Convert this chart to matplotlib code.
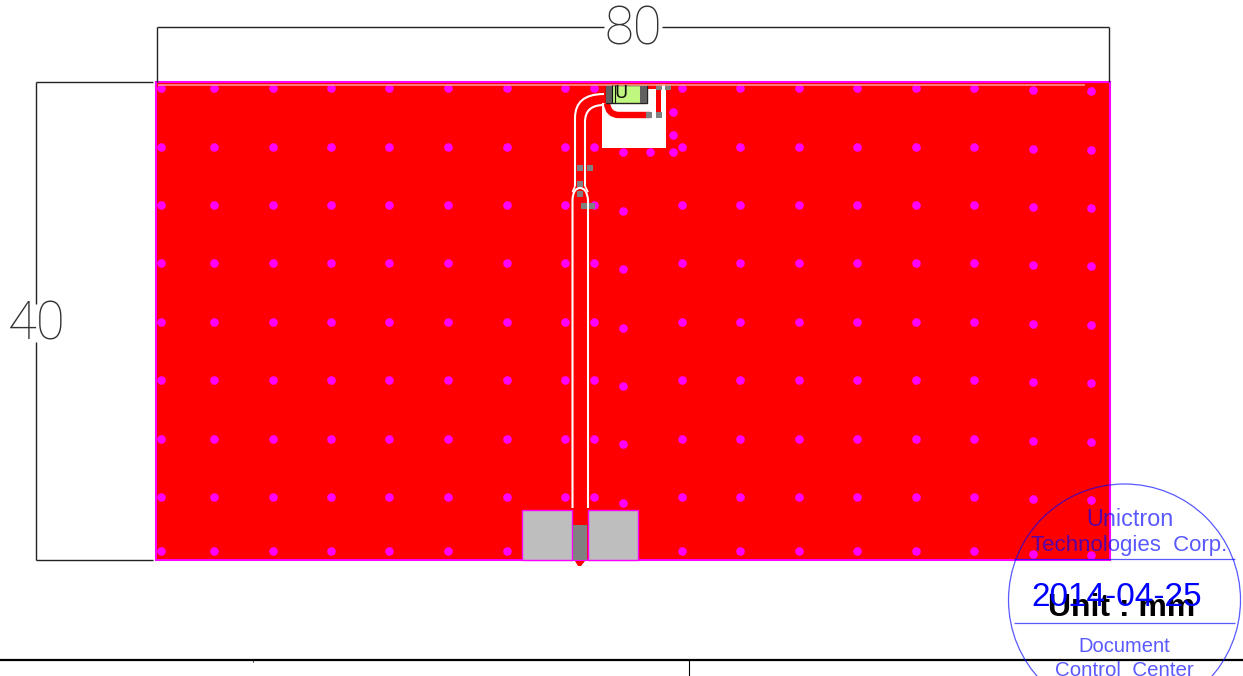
import numpy as np
import matplotlib
matplotlib.use("Agg")
import matplotlib.pyplot as plt
from matplotlib.patches import Rectangle, Circle, PathPatch, Polygon
from matplotlib.path import Path

# everything in pixels
via_cols = [161, 214, 273, 331, 389, 448, 507, 565, 594, 682, 740, 799, 857, 916, 974, 1033, 1091]
via_drop = [0, 0, 0, 0, 0, 0, 0, 0, 0, 0, 0, 0, 0, 0, 0, 2, 3]
via_rows = [88, 147, 205, 263, 322, 380, 439, 497]
bottom_cols = [161, 214, 273, 331, 389, 448, 507, 682, 740, 799, 857, 916, 974, 1033, 1091]
bottom_drop = [0, 0, 0, 0, 0, 0, 0, 0, 0, 0, 0, 0, 0, 3, 4]
bottom_row = 551
shifted_col = 623
shifted_rows = [211, 269, 328, 386, 444, 503]
extra_vias = [(623, 152), (650, 152), (673, 152), (673, 112), (673, 135)]

gray_pads = [(580, 168), (590, 168), (580, 184), (580, 194), (584, 206), (592, 206),
             (649, 115), (659, 115), (659, 87), (668, 87)]

RED = "#ff0000"
MAGENTA = "#ff00ff"
STAMP = (0.0, 0.0, 1.0, 0.65)
FONT = "Liberation Sans"

fig = plt.figure(figsize=(12.43, 6.76), dpi=100)
ax = fig.add_axes([0, 0, 1, 1])
ax.set_xlim(0, 1243)
ax.set_ylim(676, 0)
ax.axis("off")


def hline(y, x0, x1, lw=1.0, color="#222222"):
    ax.plot([x0, x1], [y, y], color=color, lw=lw, solid_capstyle="butt", zorder=8)


def vline(x, y0, y1, lw=1.0, color="#222222"):
    ax.plot([x, x], [y0, y1], color=color, lw=lw, solid_capstyle="butt", zorder=8)


def curve(points, color="white", lw=1.5, zorder=4):
    # points are line, line, ..., with the triple (a, ctrl, b) given as a nested list
    verts, codes = [], []
    for p in points:
        if isinstance(p, list):
            verts += p
            codes += [Path.CURVE3, Path.CURVE3]
        else:
            verts.append(p)
            codes.append(Path.LINETO if verts[:-1] else Path.MOVETO)
    ax.add_patch(PathPatch(Path(verts, codes), fc="none", ec=color, lw=lw, zorder=zorder))


# board
ax.add_patch(Rectangle((156, 82), 954, 478, fc=RED, ec=MAGENTA, lw=1.5, zorder=1))
hline(84.5, 158, 1085, lw=1.2, color="#ff9090")

# copper cut out round the component
ax.add_patch(Polygon([(602, 103), (648, 103), (648, 84), (666, 84), (666, 148), (602, 148)],
                     fc="white", ec="none", zorder=2))
ax.add_patch(Rectangle((656, 84), 5, 30, fc=RED, ec="none", zorder=3))
ax.add_patch(Rectangle((648, 84), 13, 5, fc=RED, ec="none", zorder=3))
curve([(607, 103), [(608, 115), (619, 115)], (650, 115)], color=RED, lw=4.6)

# feed line
curve([(575, 186), (575, 118), [(575, 94), (604, 94)]])
curve([(585, 186), (585, 122), [(585, 105), (604, 105)]])
curve([(572.5, 508), (572.5, 200), [(573, 188), (580, 188)]])
curve([(588, 508), (588, 200), [(587, 188), (580, 188)]])
curve([(575, 186), (572.5, 192)], lw=1.2)
curve([(585, 186), (588, 192)], lw=1.2)

# via fence
via_x = [x for x, d in zip(via_cols, via_drop) for _ in via_rows]
via_y = [r + d for d in via_drop for r in via_rows]
via_x += bottom_cols + [shifted_col] * len(shifted_rows) + [p[0] for p in extra_vias]
via_y += [bottom_row + d for d in bottom_drop] + shifted_rows + [p[1] for p in extra_vias]
ax.scatter(via_x, via_y, s=38, c=MAGENTA, linewidths=0, zorder=5)

# small gray pads
ax.scatter([p[0] for p in gray_pads], [p[1] for p in gray_pads], s=20, marker="s",
           c="#808080", linewidths=0, zorder=6)

# component
ax.add_patch(Rectangle((606, 85), 41, 18, fc="#bff77f", ec="#222222", lw=1.0, zorder=6))
ax.add_patch(Rectangle((606, 85), 7, 18, fc="#606060", ec="none", zorder=7))
ax.add_patch(Rectangle((640, 85), 7, 18, fc="#606060", ec="none", zorder=7))
vline(612, 85, 103, lw=0.8, color="#111111")
vline(615, 85, 103, lw=0.8, color="#111111")
ax.text(621, 93, "U", ha="center", va="center", fontsize=13, color="#111111",
        family="DejaVu Sans", zorder=8)

# connector
ax.add_patch(Rectangle((522.5, 509.5), 50, 50, fc="#bebebe", ec=MAGENTA, lw=1.0, zorder=6))
ax.add_patch(Rectangle((588, 509.5), 50, 50, fc="#bebebe", ec=MAGENTA, lw=1.0, zorder=6))
ax.add_patch(Rectangle((573.5, 525), 14, 35, fc="#808080", ec="none", zorder=6))
ax.add_patch(Polygon([(575, 561), (585, 561), (581, 566), (578, 566)], fc=RED, ec="none", zorder=6))

# dimensions
hline(27, 157, 604)
hline(27, 662, 1109)
vline(157, 27, 82)
vline(1109, 27, 82)
hline(82, 36, 153)
hline(560, 36, 153)
vline(36.5, 82, 304)
vline(36.5, 342, 560)
ax.text(633, 30, "80", ha="center", va="center", fontsize=38, family="Roboto", weight=100,
        color="#333333", zorder=8)
ax.text(37, 325, "40", ha="center", va="center", fontsize=38, family="Roboto", weight=100,
        color="#333333", zorder=8)

# title block line
hline(660, 0, 1243, lw=1.6, color="black")
vline(689, 660, 676, lw=0.8, color="black")
vline(253, 660, 662, lw=0.6, color="black")

# stamp
ax.add_patch(Circle((1124.5, 600), 116, fc="none", ec=STAMP, lw=0.9, zorder=10))
hline(559, 1014, 1235, lw=0.9, color=STAMP)
hline(623, 1014, 1235, lw=0.9, color=STAMP)
ax.text(1129.5, 519, "Unictron", ha="center", va="center", fontsize=16.8, family=FONT, color=STAMP, zorder=10)
ax.text(1129.5, 546, "Technologies  Corp.", ha="center", va="center", fontsize=16, family=FONT, color=STAMP, zorder=10)
ax.text(1122, 608, "Unit : mm", ha="center", va="center", fontsize=23, family=FONT, weight="bold",
        color="black", zorder=10)
ax.text(1116.5, 597, "2014-04-25", ha="center", va="center", fontsize=24, family=FONT, color="#0000ff", zorder=11)
ax.text(1124, 646, "Document", ha="center", va="center", fontsize=14.5, family=FONT, color=STAMP, zorder=10)
ax.text(1124, 670, "Control  Center", ha="center", va="center", fontsize=14.8, family=FONT, color=STAMP, zorder=10)

fig.savefig("out.png", dpi=100, facecolor="white")
